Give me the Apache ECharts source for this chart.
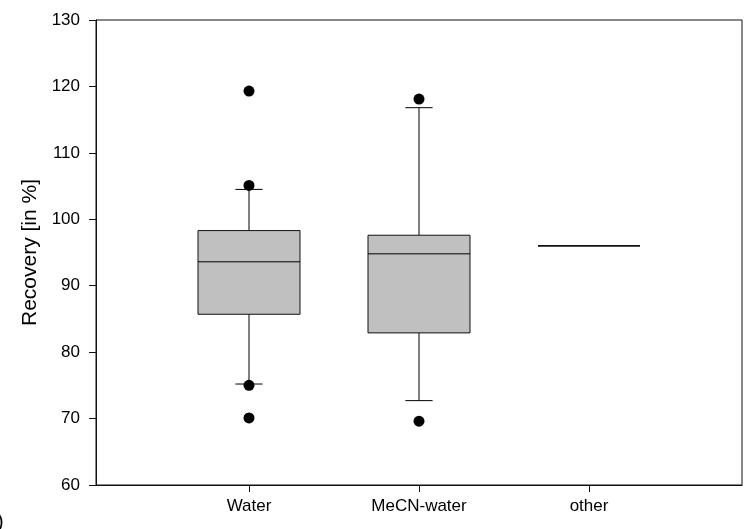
<!DOCTYPE html>
<html>
<head>
<meta charset="utf-8">
<script src="https://cdn.jsdelivr.net/npm/echarts@6/dist/echarts.min.js"></script>
<style>
  html, body { margin: 0; padding: 0; background: #fff; }
  #chart { width: 744px; height: 529px; }
</style>
</head>
<body>
<div id="chart"></div>
<script>
// Recovery per solvent group: box statistics and single outlying points
const categories   = ['Water', 'MeCN-water', 'other'];
const positions    = [1, 2, 3];
const whiskerLow   = [75.2, 72.7, null];
const q1           = [85.7, 82.9, 96.0];
const median       = [93.6, 94.8, 96.0];
const q3           = [98.3, 97.6, 96.0];
const whiskerHigh  = [104.5, 116.8, null];
const outlierGroup = [1, 1, 1, 1, 2, 2];
const outlierValue = [119.3, 105.1, 75.0, 70.1, 118.1, 69.6];
const yTicks       = [60, 70, 80, 90, 100, 110, 120, 130];

const BOX_W = 0.6;   // box width in x-axis units
const CAP_W = 0.16;  // whisker cap width in x-axis units

const boxData = positions.map((p, i) => [p, whiskerLow[i], q1[i], median[i], q3[i], whiskerHigh[i]]);
const outlierData = outlierGroup.map((g, i) => [g, outlierValue[i]]);

const lineStyle = { stroke: '#000', lineWidth: 1 };

function renderBox(params, api) {
  const x = api.value(0);
  const lo = api.value(1), a = api.value(2), m = api.value(3), b = api.value(4), hi = api.value(5);
  const half = api.size([BOX_W, 0])[0] / 2;
  const capHalf = api.size([CAP_W, 0])[0] / 2;
  const pA = api.coord([x, a]);
  const pB = api.coord([x, b]);
  const pM = api.coord([x, m]);
  const cx = pA[0];
  const children = [];
  if (a === b) {
    // a group with a single value collapses to one line
    children.push({ type: 'line', shape: { x1: cx - half, y1: pM[1], x2: cx + half, y2: pM[1] },
      style: { stroke: '#111', lineWidth: 1.6 } });
    return { type: 'group', children };
  }
  if (hi !== null && !isNaN(hi)) {
    const pH = api.coord([x, hi]);
    children.push({ type: 'line', shape: { x1: cx, y1: pB[1], x2: cx, y2: pH[1] }, style: lineStyle });
    children.push({ type: 'line', shape: { x1: cx - capHalf, y1: pH[1], x2: cx + capHalf, y2: pH[1] }, style: lineStyle });
  }
  if (lo !== null && !isNaN(lo)) {
    const pL = api.coord([x, lo]);
    children.push({ type: 'line', shape: { x1: cx, y1: pA[1], x2: cx, y2: pL[1] }, style: lineStyle });
    children.push({ type: 'line', shape: { x1: cx - capHalf, y1: pL[1], x2: cx + capHalf, y2: pL[1] }, style: lineStyle });
  }
  children.push({
    type: 'rect',
    shape: { x: cx - half, y: pB[1], width: half * 2, height: pA[1] - pB[1] },
    style: { fill: '#c0c0c0', stroke: '#111', lineWidth: 1 }
  });
  children.push({ type: 'line', shape: { x1: cx - half, y1: pM[1], x2: cx + half, y2: pM[1] }, style: lineStyle });
  return { type: 'group', children };
}

const chart = echarts.init(document.getElementById('chart'), null, { renderer: 'canvas' });
const font = 'Liberation Sans, Arial, sans-serif';

chart.setOption({
  animation: false,
  backgroundColor: '#fff',
  textStyle: { fontFamily: font },
  grid: {
    left: 96, right: 2, top: 20, bottom: 44,
    show: true, borderColor: '#111', borderWidth: 1, backgroundColor: 'transparent',
    containLabel: false
  },
  xAxis: {
    type: 'value',
    min: 0.1, max: 3.9,
    axisLine: { show: true, lineStyle: { color: '#111', width: 1 } },
    axisTick: { show: true, length: 7, inside: false, customValues: positions, lineStyle: { color: '#111' } },
    axisLabel: {
      show: true, margin: 13, color: '#000', fontSize: 17, fontFamily: font,
      customValues: positions,
      formatter: v => categories[Math.round(v) - 1] || ''
    },
    splitLine: { show: false }
  },
  yAxis: {
    type: 'value',
    min: 60, max: 130, interval: 10,
    name: 'Recovery [in %]',
    nameLocation: 'middle',
    nameGap: 45,
    nameTextStyle: { fontSize: 21, color: '#000', fontFamily: font },
    axisLine: { show: true, lineStyle: { color: '#111', width: 1 } },
    axisTick: { show: true, length: 7, inside: false, lineStyle: { color: '#111' } },
    axisLabel: { margin: 16, color: '#000', fontSize: 17, fontFamily: font,
      formatter: v => yTicks.includes(v) ? String(v) : '' },
    splitLine: { show: false }
  },
  graphic: [{
    type: 'text', left: -3, top: 512,
    style: { text: ')', fontSize: 20, fontFamily: font, fill: '#000' }
  }],
  series: [
    {
      type: 'custom',
      renderItem: renderBox,
      data: boxData,
      encode: { x: 0, y: [1, 2, 3, 4, 5] },
      z: 2
    },
    {
      type: 'scatter',
      data: outlierData,
      symbol: 'circle',
      symbolSize: 11,
      itemStyle: { color: '#000', opacity: 1 },
      z: 3
    }
  ]
});
</script>
</body>
</html>
